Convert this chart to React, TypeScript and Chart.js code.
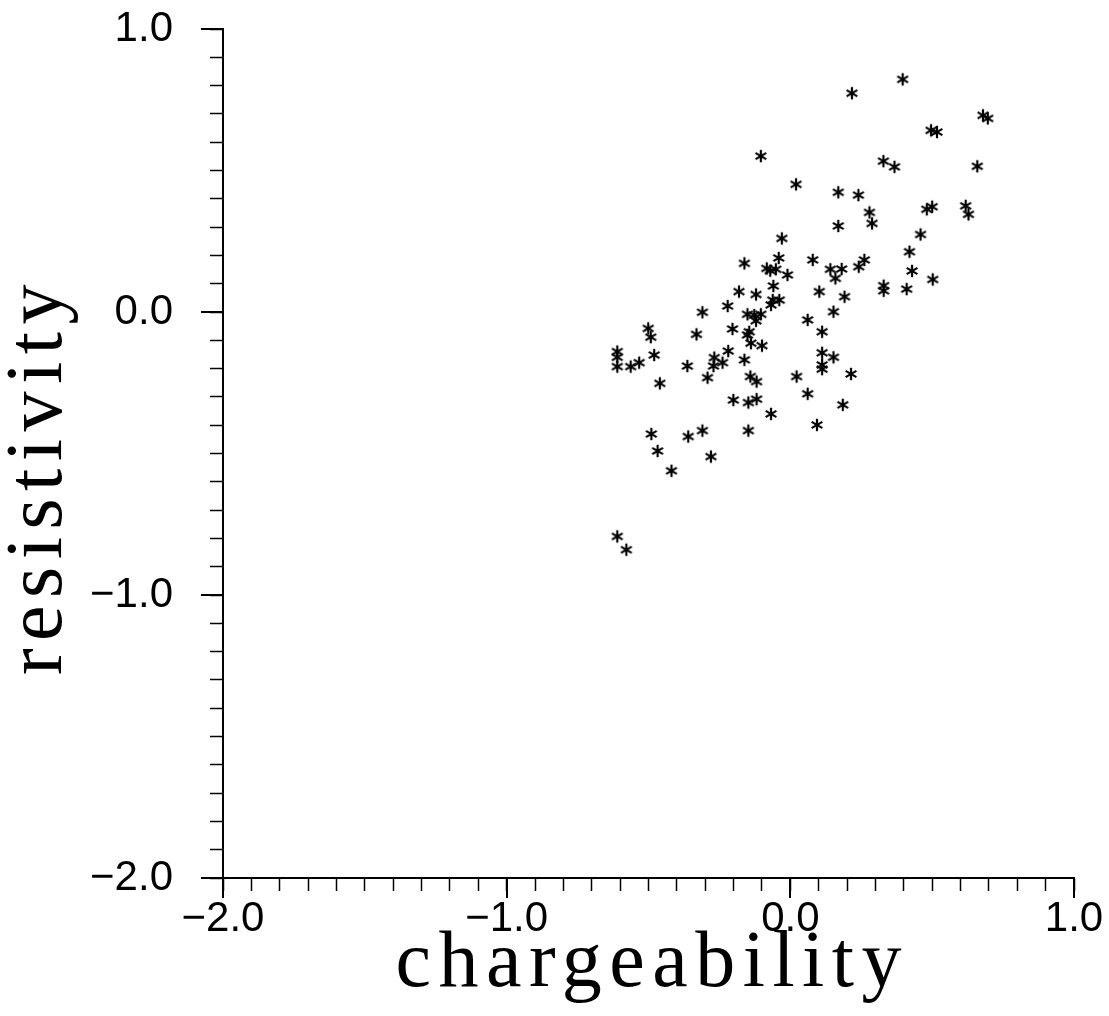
import React, { useEffect, useRef } from 'react';
import { Chart, registerables } from 'chart.js';

Chart.register(...registerables);

const chargeability = [
  0.396, 0.217, 0.679, 0.696, 0.496, 0.517, -0.104, 0.328, 0.367, 0.659,
  0.020, 0.169, 0.240, 0.500, 0.481, 0.618, 0.628, 0.279, 0.288, 0.169,
  0.459, -0.030, 0.420, -0.041, 0.079, -0.162, 0.261, 0.241, -0.083, -0.071,
  -0.051, -0.010, 0.141, 0.181, 0.159, 0.429, 0.502, 0.329, 0.329, 0.410,
  -0.060, -0.181, -0.121, 0.102, 0.191, -0.221, -0.062, -0.039, -0.068, -0.310,
  0.152, -0.151, -0.127, -0.104, -0.121, 0.061, 0.112, -0.501, -0.492, -0.331,
  -0.204, -0.145, -0.151, -0.139, -0.100, -0.610, -0.610, -0.610, -0.563, -0.533,
  -0.480, -0.363, -0.268, -0.239, -0.219, -0.271, -0.162, 0.112, 0.112, 0.112,
  0.152, 0.214, -0.460, -0.292, -0.141, -0.119, 0.022, -0.201, -0.148, -0.119,
  0.061, 0.185, -0.068, -0.490, -0.360, -0.310, -0.148, 0.094, -0.468, -0.280,
  -0.419, -0.610, -0.578,
];

const resistivity = [
  0.822, 0.773, 0.695, 0.684, 0.642, 0.636, 0.551, 0.533, 0.513, 0.515,
  0.451, 0.423, 0.413, 0.372, 0.363, 0.375, 0.345, 0.352, 0.313, 0.304,
  0.274, 0.260, 0.213, 0.191, 0.184, 0.172, 0.184, 0.160, 0.154, 0.146,
  0.151, 0.131, 0.151, 0.152, 0.119, 0.145, 0.115, 0.093, 0.075, 0.081,
  0.092, 0.072, 0.062, 0.072, 0.054, 0.021, 0.042, 0.042, 0.025, -0.001,
  0.001, -0.008, -0.011, -0.008, -0.031, -0.028, -0.070, -0.058, -0.089, -0.079,
  -0.060, -0.070, -0.081, -0.110, -0.119, -0.140, -0.160, -0.193, -0.193, -0.179,
  -0.152, -0.191, -0.161, -0.179, -0.138, -0.191, -0.169, -0.144, -0.187, -0.202,
  -0.160, -0.219, -0.252, -0.232, -0.228, -0.246, -0.228, -0.311, -0.320, -0.308,
  -0.289, -0.328, -0.360, -0.431, -0.440, -0.419, -0.419, -0.399, -0.491, -0.511,
  -0.561, -0.793, -0.840,
];

const xAxisTitle = 'chargeability';
const yAxisTitle = 'resistivity';
const axisMin = -2;
const axisMax = 1;
const minorStep = 0.1;
const majorTicks = [-2, -1, 0, 1];

const isMajor = (v: number) => Math.abs(v - Math.round(v)) < 1e-6;
const fmt = (v: number) => (v < -1e-9 ? '\u2212' : '') + Math.abs(v).toFixed(1);

function makeAsterisk(): HTMLCanvasElement {
  const c = document.createElement('canvas');
  const s = 16;
  c.width = s;
  c.height = s;
  const ctx = c.getContext('2d')!;
  ctx.strokeStyle = '#000';
  ctx.lineWidth = 2.2;
  const r = 6.2;
  const cx = s / 2;
  const cy = s / 2;
  for (const a of [90, 30, -30]) {
    const rad = (a * Math.PI) / 180;
    ctx.beginPath();
    ctx.moveTo(cx - r * Math.cos(rad), cy - r * Math.sin(rad));
    ctx.lineTo(cx + r * Math.cos(rad), cy + r * Math.sin(rad));
    ctx.stroke();
  }
  return c;
}

const decorPlugin = {
  id: 'decor',
  afterDraw(chart: any) {
    const { ctx, chartArea: a, scales } = chart;
    const xs = scales.x;
    const ys = scales.y;
    ctx.save();
    ctx.strokeStyle = '#000';
    ctx.lineWidth = 2;
    for (const v of majorTicks) {
      const px = Math.round(xs.getPixelForValue(v));
      ctx.beginPath();
      ctx.moveTo(px, a.bottom);
      ctx.lineTo(px, a.bottom + 20);
      ctx.stroke();
      const py = Math.round(ys.getPixelForValue(v));
      ctx.beginPath();
      ctx.moveTo(a.left, py);
      ctx.lineTo(a.left - 22, py);
      ctx.stroke();
    }
    ctx.fillStyle = '#000';
    ctx.font = '80px "Liberation Serif", "Times New Roman", serif';
    ctx.letterSpacing = '7.5px';
    ctx.textAlign = 'center';
    ctx.textBaseline = 'alphabetic';
    ctx.fillText(xAxisTitle, (a.left + a.right) / 2 + 3.75, a.bottom + 108);
    ctx.translate(a.left - 162, a.top + 0.531 * (a.bottom - a.top));
    ctx.rotate(-Math.PI / 2);
    ctx.fillText(yAxisTitle, 3.75, 0);
    ctx.restore();
  },
};

export default function App() {
  const ref = useRef<HTMLCanvasElement | null>(null);
  useEffect(() => {
    if (!ref.current) return;
    const marker = makeAsterisk();
    const points = chargeability.map((x, i) => ({ x, y: resistivity[i] }));
    const tickFont = { family: '"Liberation Sans", Arial, sans-serif', size: 42 };
    const chart = new Chart(ref.current, {
      type: 'scatter',
      data: {
        datasets: [
          {
            data: points,
            pointStyle: marker as any,
            pointRadius: 7,
            pointHoverRadius: 7,
            showLine: false,
          },
        ],
      },
      plugins: [decorPlugin],
      options: {
        responsive: false,
        animation: false,
        layout: { padding: { left: 0, top: 29, right: 56, bottom: 0 } },
        plugins: { legend: { display: false }, tooltip: { enabled: false } },
        scales: {
          x: {
            type: 'linear',
            position: 'bottom',
            min: axisMin,
            max: axisMax,
            afterFit: (s: any) => {
              s.height = 138;
              s.paddingLeft = 0;
              s.paddingRight = 0;
            },
            ticks: {
              stepSize: minorStep,
              autoSkip: false,
              maxRotation: 0,
              minRotation: 0,
              color: '#000',
              font: tickFont,
              padding: 3,
              callback: (v: any) => (isMajor(Number(v)) ? fmt(Number(v)) : ''),
            },
            grid: { drawOnChartArea: false, drawTicks: true, tickLength: 13, tickWidth: 1.5, tickColor: '#000' },
            border: { display: true, color: '#000', width: 2 },
          },
          y: {
            type: 'linear',
            position: 'left',
            min: axisMin,
            max: axisMax,
            afterFit: (s: any) => {
              s.width = 223;
              s.paddingTop = 0;
              s.paddingBottom = 0;
            },
            ticks: {
              stepSize: minorStep,
              autoSkip: false,
              color: '#000',
              font: tickFont,
              padding: 37,
              callback: (v: any) => (isMajor(Number(v)) ? fmt(Number(v)) : ''),
            },
            grid: { drawOnChartArea: false, drawTicks: true, tickLength: 13, tickWidth: 1.5, tickColor: '#000' },
            border: { display: true, color: '#000', width: 2 },
          },
        },
      },
    });
    return () => chart.destroy();
  }, []);
  return (
    <div style={{ position: 'absolute', left: 0, top: 0, width: 1109, height: 1016, overflow: 'hidden', background: '#fff' }}>
      <canvas ref={ref} width={1130} height={1016} style={{ display: 'block' }} />
    </div>
  );
}
